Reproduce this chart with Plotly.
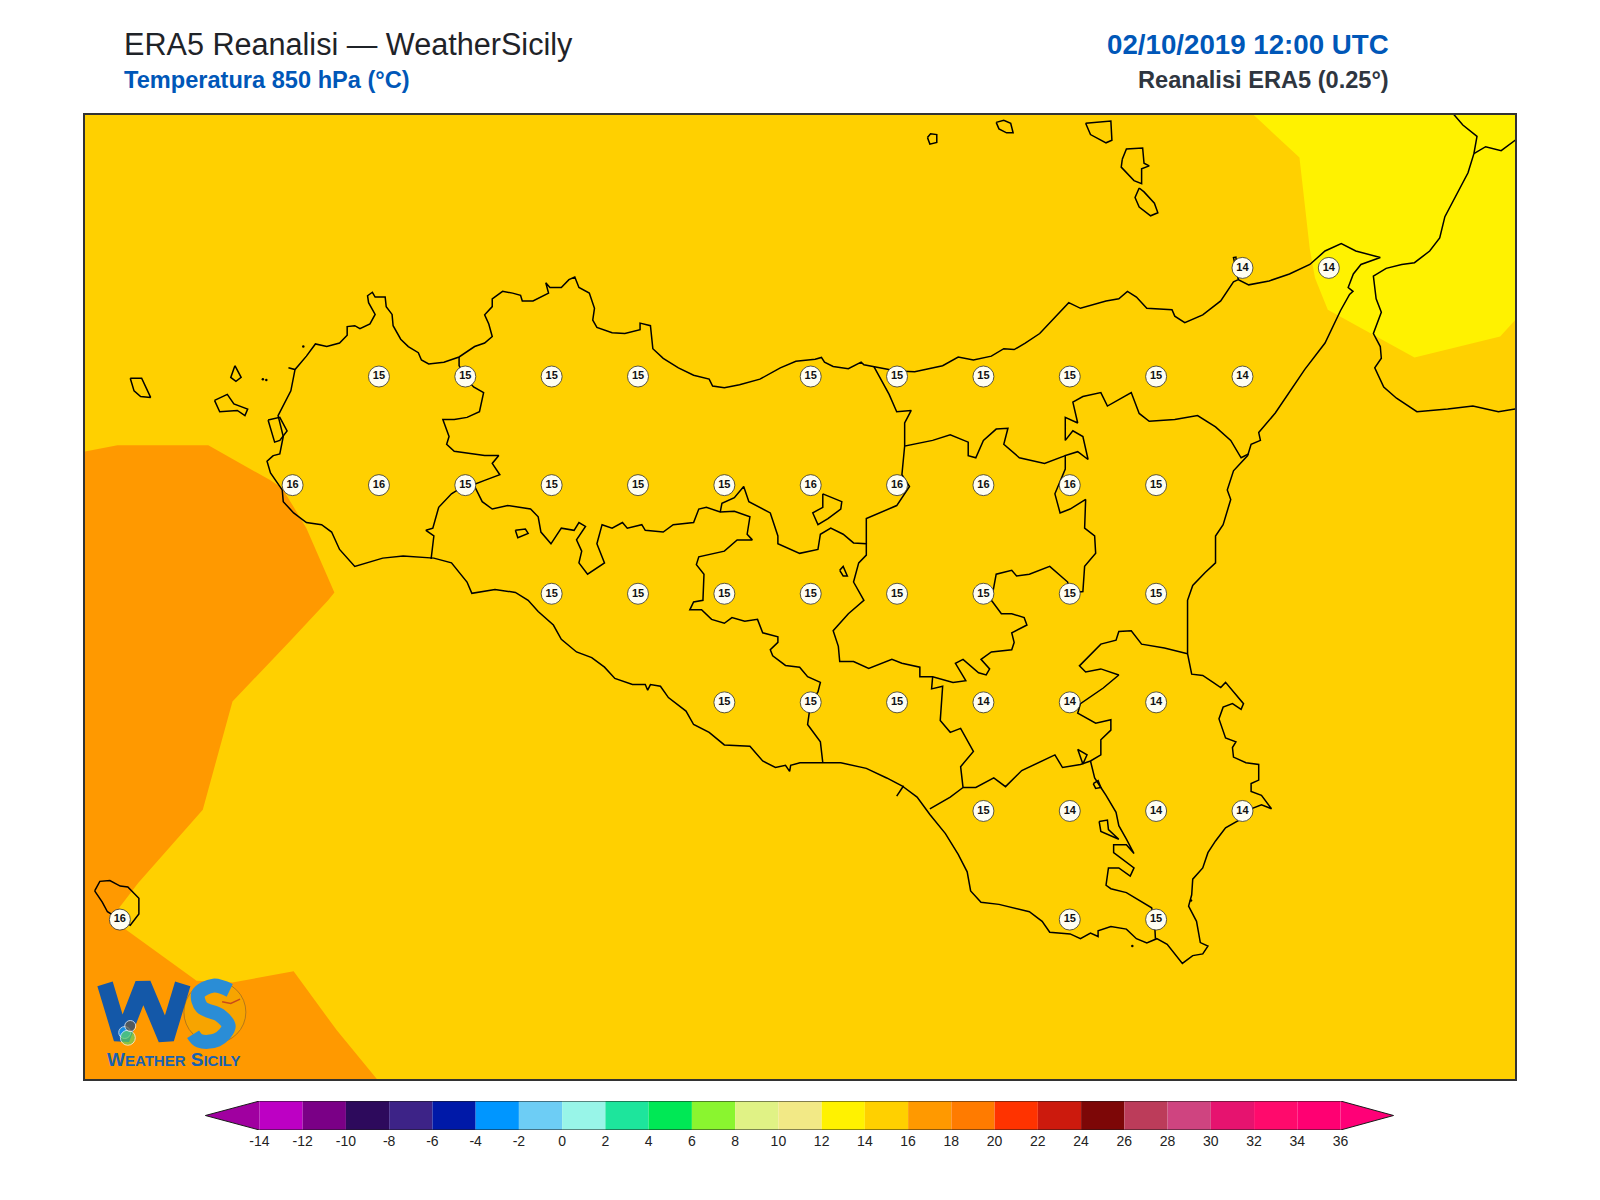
import plotly.graph_objects as go

# map window, degrees
lon_range = [11.899, 16.039]
lat_range = [36.383, 38.602]

# rounded 850 hPa temperature on the 0.25 degree grid
station_lon = [15.25, 15.5,
               12.75, 13.0, 13.25, 13.5, 14.0, 14.25, 14.5, 14.75, 15.0, 15.25,
               12.5, 12.75, 13.0, 13.25, 13.5, 13.75, 14.0, 14.25, 14.5, 14.75, 15.0,
               13.25, 13.5, 13.75, 14.0, 14.25, 14.5, 14.75, 15.0,
               13.75, 14.0, 14.25, 14.5, 14.75, 15.0,
               14.5, 14.75, 15.0, 15.25,
               12.0, 14.75, 15.0]
station_lat = [38.25, 38.25,
               38.0, 38.0, 38.0, 38.0, 38.0, 38.0, 38.0, 38.0, 38.0, 38.0,
               37.75, 37.75, 37.75, 37.75, 37.75, 37.75, 37.75, 37.75, 37.75, 37.75, 37.75,
               37.5, 37.5, 37.5, 37.5, 37.5, 37.5, 37.5, 37.5,
               37.25, 37.25, 37.25, 37.25, 37.25, 37.25,
               37.0, 37.0, 37.0, 37.0,
               36.75, 36.75, 36.75]
station_val = [14, 14,
               15, 15, 15, 15, 15, 15, 15, 15, 15, 14,
               16, 16, 15, 15, 15, 15, 16, 16, 16, 16, 15,
               15, 15, 15, 15, 15, 15, 15, 15,
               15, 15, 15, 14, 14, 14,
               15, 14, 14, 14,
               16, 15, 15]

# colour bands
band_14_16 = [(11.895, 36.381), (16.043, 36.381), (16.043, 38.604), (11.895, 38.604)]
band_16_18 = [(11.895, 37.827), (11.993, 37.842), (12.256, 37.842), (12.436, 37.761), (12.470, 37.743),
              (12.540, 37.651), (12.621, 37.503), (12.603, 37.485), (12.495, 37.393), (12.326, 37.252),
              (12.240, 37.003), (12.053, 36.834), (11.998, 36.777), (12.016, 36.728), (12.222, 36.609),
              (12.326, 36.605), (12.503, 36.631), (12.628, 36.495), (12.746, 36.381), (11.895, 36.381)]
band_12_14 = [(15.280, 38.604), (15.415, 38.504), (15.445, 38.293), (15.460, 38.227), (15.497, 38.154),
              (15.748, 38.044), (15.996, 38.092), (16.043, 38.133), (16.043, 38.604)]

sicily = [(12.444, 37.818), (12.463, 37.822), (12.473, 37.862), (12.458, 37.910), (12.495, 37.967), (12.507, 38.016),
          (12.488, 38.020), (12.507, 38.016), (12.540, 38.047), (12.566, 38.075), (12.599, 38.069), (12.636, 38.077),
          (12.658, 38.095), (12.658, 38.115), (12.680, 38.117), (12.695, 38.110), (12.724, 38.121), (12.739, 38.143),
          (12.720, 38.170), (12.717, 38.186), (12.731, 38.194), (12.739, 38.183), (12.768, 38.183), (12.771, 38.161),
          (12.788, 38.143), (12.791, 38.117), (12.813, 38.086), (12.835, 38.069), (12.864, 38.055), (12.873, 38.038),
          (12.894, 38.029), (12.938, 38.033), (12.982, 38.045), (13.027, 38.069), (13.056, 38.077), (13.078, 38.092),
          (13.068, 38.121), (13.056, 38.142), (13.078, 38.161), (13.078, 38.179), (13.108, 38.196), (13.137, 38.192),
          (13.160, 38.187), (13.165, 38.174), (13.196, 38.174), (13.241, 38.192), (13.233, 38.216), (13.245, 38.205),
          (13.278, 38.205), (13.300, 38.223), (13.317, 38.229), (13.329, 38.205), (13.359, 38.192), (13.374, 38.157),
          (13.369, 38.130), (13.381, 38.113), (13.425, 38.101), (13.462, 38.099), (13.506, 38.108), (13.506, 38.123),
          (13.536, 38.117), (13.540, 38.082), (13.543, 38.064), (13.573, 38.042), (13.617, 38.020), (13.661, 38.003),
          (13.706, 37.994), (13.716, 37.978), (13.750, 37.974), (13.794, 37.981), (13.853, 37.994), (13.912, 38.020),
          (13.957, 38.035), (14.013, 38.040), (14.031, 38.044), (14.040, 38.033), (14.065, 38.023), (14.109, 38.018),
          (14.146, 38.033), (14.154, 38.027), (14.183, 38.023), (14.249, 38.013), (14.301, 38.011), (14.353, 38.020),
          (14.382, 38.025), (14.427, 38.045), (14.471, 38.038), (14.523, 38.047), (14.559, 38.064), (14.589, 38.062),
          (14.621, 38.077), (14.663, 38.099), (14.747, 38.170), (14.781, 38.157), (14.855, 38.174), (14.892, 38.179),
          (14.917, 38.196), (14.943, 38.183), (14.973, 38.157), (15.046, 38.154), (15.054, 38.139), (15.083, 38.124),
          (15.135, 38.142), (15.187, 38.174), (15.224, 38.218), (15.238, 38.223), (15.231, 38.275), (15.224, 38.274),
          (15.238, 38.223), (15.268, 38.211), (15.327, 38.220), (15.386, 38.236), (15.445, 38.258), (15.489, 38.289),
          (15.536, 38.306), (15.578, 38.289), (15.649, 38.274), (15.593, 38.258), (15.571, 38.236), (15.556, 38.205),
          (15.570, 38.196), (15.560, 38.189), (15.534, 38.152), (15.489, 38.077), (15.430, 38.016), (15.345, 37.916),
          (15.297, 37.871), (15.302, 37.853), (15.275, 37.844), (15.265, 37.818), (15.224, 37.783), (15.206, 37.739),
          (15.216, 37.717), (15.194, 37.659), (15.172, 37.633), (15.172, 37.571), (15.142, 37.549), (15.106, 37.519),
          (15.091, 37.485), (15.091, 37.406), (15.091, 37.362), (15.103, 37.315), (15.135, 37.312), (15.165, 37.296),
          (15.187, 37.284), (15.201, 37.296), (15.224, 37.274), (15.253, 37.247), (15.246, 37.234), (15.221, 37.247),
          (15.194, 37.239), (15.182, 37.212), (15.201, 37.168), (15.231, 37.159), (15.221, 37.146), (15.224, 37.124),
          (15.260, 37.111), (15.297, 37.107), (15.297, 37.071), (15.275, 37.063), (15.275, 37.045), (15.305, 37.036),
          (15.334, 37.005), (15.305, 37.014), (15.275, 37.005), (15.249, 36.983), (15.201, 36.961), (15.172, 36.931),
          (15.150, 36.904), (15.135, 36.869), (15.106, 36.843), (15.103, 36.807), (15.094, 36.781), (15.117, 36.746),
          (15.128, 36.697), (15.150, 36.689), (15.135, 36.671), (15.106, 36.667), (15.076, 36.649), (15.054, 36.671),
          (15.032, 36.693), (15.002, 36.706), (14.973, 36.696), (14.943, 36.706), (14.914, 36.728), (14.869, 36.734),
          (14.832, 36.724), (14.832, 36.711), (14.810, 36.719), (14.781, 36.706), (14.751, 36.717), (14.692, 36.721),
          (14.670, 36.746), (14.633, 36.768), (14.589, 36.777), (14.545, 36.785), (14.493, 36.790), (14.463, 36.816),
          (14.453, 36.860), (14.427, 36.900), (14.390, 36.948), (14.345, 36.992), (14.308, 37.032), (14.264, 37.058),
          (14.220, 37.076), (14.161, 37.098), (14.087, 37.111), (14.035, 37.111), (13.969, 37.111), (13.942, 37.105),
          (13.939, 37.091), (13.927, 37.105), (13.898, 37.100), (13.861, 37.115), (13.824, 37.149), (13.750, 37.152),
          (13.706, 37.181), (13.661, 37.199), (13.639, 37.230), (13.588, 37.261), (13.565, 37.287), (13.536, 37.291),
          (13.528, 37.278), (13.521, 37.291), (13.484, 37.291), (13.433, 37.305), (13.403, 37.331), (13.366, 37.353),
          (13.322, 37.366), (13.278, 37.395), (13.255, 37.428), (13.211, 37.459), (13.182, 37.485), (13.145, 37.503),
          (13.086, 37.510), (13.019, 37.501), (13.005, 37.527), (12.960, 37.571), (12.909, 37.582), (12.820, 37.587),
          (12.761, 37.582), (12.680, 37.563), (12.636, 37.602), (12.613, 37.642), (12.584, 37.659), (12.540, 37.664),
          (12.503, 37.686), (12.473, 37.712), (12.470, 37.739), (12.436, 37.778), (12.426, 37.805), (12.444, 37.818)]

calabria = [(15.861, 38.604), (15.888, 38.579), (15.929, 38.553), (15.920, 38.513), (15.903, 38.469), (15.858, 38.399),
            (15.836, 38.368), (15.821, 38.319), (15.792, 38.289), (15.748, 38.262), (15.711, 38.258), (15.666, 38.249),
            (15.629, 38.231), (15.637, 38.179), (15.652, 38.148), (15.629, 38.099), (15.649, 38.069), (15.652, 38.042),
            (15.633, 38.020), (15.659, 37.976), (15.696, 37.950), (15.755, 37.919), (15.844, 37.925), (15.917, 37.932),
            (15.991, 37.919), (16.043, 37.926)]
calabria_branch = [(15.920, 38.513), (15.954, 38.529), (15.999, 38.520), (16.028, 38.538), (16.043, 38.546)]

# islands
pantelleria = [(11.927, 36.816), (11.942, 36.838), (11.971, 36.840), (12.001, 36.827), (12.023, 36.825), (12.055, 36.799),
               (12.055, 36.763), (12.030, 36.737), (12.001, 36.750), (11.964, 36.768), (11.949, 36.790), (11.927, 36.816)]
marettimo = [(12.030, 37.996), (12.063, 37.996), (12.089, 37.952), (12.060, 37.954), (12.041, 37.967), (12.030, 37.996)]
levanzo = [(12.333, 38.025), (12.351, 37.998), (12.336, 37.989), (12.321, 37.998), (12.333, 38.025)]
favignana = [(12.274, 37.945), (12.311, 37.959), (12.330, 37.937), (12.370, 37.925), (12.362, 37.910), (12.340, 37.922),
             (12.289, 37.919), (12.274, 37.945)]
stagnone = [(12.429, 37.900), (12.463, 37.906), (12.484, 37.875), (12.463, 37.853), (12.448, 37.849), (12.429, 37.900)]
alicudi = [(14.338, 38.550), (14.347, 38.559), (14.365, 38.557), (14.365, 38.539), (14.345, 38.535), (14.338, 38.550)]
filicudi = [(14.537, 38.585), (14.559, 38.590), (14.579, 38.583), (14.586, 38.561), (14.567, 38.561), (14.545, 38.570),
            (14.537, 38.585)]
salina = [(14.796, 38.583), (14.869, 38.588), (14.872, 38.544), (14.855, 38.538), (14.810, 38.557), (14.796, 38.583)]
lipari = [(14.902, 38.500), (14.914, 38.524), (14.961, 38.526), (14.965, 38.491), (14.980, 38.485), (14.958, 38.478),
          (14.958, 38.444), (14.936, 38.451), (14.899, 38.482), (14.902, 38.500)]
vulcano = [(14.951, 38.434), (14.965, 38.425), (14.995, 38.399), (15.005, 38.377), (14.984, 38.370), (14.951, 38.390),
           (14.939, 38.412), (14.951, 38.434)]

# province borders
border_tp_pa = [(12.982, 38.045), (12.982, 38.025), (13.000, 37.998), (13.024, 37.976), (13.053, 37.963), (13.041, 37.919),
                (13.005, 37.906), (12.968, 37.901), (12.935, 37.901), (12.953, 37.862), (12.946, 37.844), (12.968, 37.828),
                (13.056, 37.818), (13.097, 37.818), (13.078, 37.800), (13.100, 37.774), (13.056, 37.761), (13.027, 37.752),
                (13.000, 37.750), (12.960, 37.730), (12.923, 37.699), (12.906, 37.651), (12.886, 37.646), (12.909, 37.633),
                (12.901, 37.580)]
border_pa_ag = [(13.027, 37.747), (13.049, 37.712), (13.078, 37.695), (13.123, 37.703), (13.189, 37.695), (13.211, 37.677),
                (13.219, 37.642), (13.248, 37.615), (13.278, 37.651), (13.315, 37.646), (13.329, 37.664), (13.348, 37.655),
                (13.322, 37.624), (13.337, 37.598), (13.329, 37.571), (13.354, 37.545), (13.403, 37.571), (13.381, 37.615),
                (13.396, 37.659), (13.425, 37.651), (13.455, 37.664), (13.469, 37.651), (13.511, 37.659), (13.521, 37.646),
                (13.573, 37.642), (13.602, 37.659), (13.661, 37.664), (13.676, 37.695), (13.698, 37.699), (13.738, 37.688),
                (13.779, 37.690), (13.824, 37.677), (13.816, 37.637), (13.831, 37.624), (13.787, 37.624), (13.750, 37.598),
                (13.676, 37.585), (13.669, 37.567), (13.691, 37.545), (13.688, 37.485), (13.661, 37.481), (13.650, 37.463),
                (13.684, 37.463), (13.713, 37.441), (13.750, 37.432), (13.772, 37.445), (13.809, 37.437), (13.846, 37.441),
                (13.861, 37.410), (13.905, 37.401), (13.905, 37.388), (13.883, 37.371), (13.890, 37.357), (13.927, 37.335),
                (13.968, 37.331), (13.991, 37.309), (14.028, 37.296), (14.021, 37.274), (14.000, 37.250), (13.991, 37.199),
                (14.028, 37.159), (14.035, 37.111)]
border_pa_cl = [(13.738, 37.688), (13.743, 37.708), (13.779, 37.721), (13.806, 37.747), (13.821, 37.712), (13.883, 37.686),
                (13.905, 37.633), (13.905, 37.615), (13.968, 37.593), (14.021, 37.602), (14.028, 37.637), (14.058, 37.651),
                (14.094, 37.637), (14.124, 37.617), (14.161, 37.615), (14.161, 37.589), (14.139, 37.571), (14.124, 37.527),
                (14.154, 37.485), (14.109, 37.454), (14.065, 37.415), (14.080, 37.379), (14.084, 37.344), (14.124, 37.344),
                (14.168, 37.328), (14.235, 37.349), (14.264, 37.340), (14.316, 37.331), (14.316, 37.309), (14.353, 37.309),
                (14.412, 37.296), (14.449, 37.300), (14.419, 37.340), (14.441, 37.349), (14.486, 37.318), (14.508, 37.313),
                (14.518, 37.327), (14.493, 37.349), (14.523, 37.366), (14.582, 37.371), (14.589, 37.388), (14.582, 37.410),
                (14.626, 37.428), (14.618, 37.445), (14.582, 37.454), (14.552, 37.454), (14.523, 37.485), (14.537, 37.545),
                (14.582, 37.554), (14.596, 37.541), (14.633, 37.545), (14.692, 37.563), (14.744, 37.527), (14.748, 37.501),
                (14.788, 37.505), (14.793, 37.563), (14.825, 37.593), (14.822, 37.633), (14.793, 37.651), (14.796, 37.717),
                (14.751, 37.695), (14.722, 37.686), (14.707, 37.730), (14.737, 37.787), (14.737, 37.818), (14.773, 37.827),
                (14.803, 37.809), (14.788, 37.862), (14.759, 37.875), (14.737, 37.853), (14.737, 37.906), (14.773, 37.893),
                (14.759, 37.941), (14.788, 37.954), (14.840, 37.963), (14.859, 37.932), (14.928, 37.963), (14.951, 37.915),
                (14.980, 37.897), (15.054, 37.901), (15.120, 37.910), (15.172, 37.884), (15.216, 37.853), (15.246, 37.813),
                (15.268, 37.822)]
border_me_en = [(14.737, 37.818), (14.677, 37.800), (14.604, 37.813), (14.559, 37.844), (14.571, 37.881), (14.537, 37.879),
                (14.500, 37.853), (14.478, 37.813), (14.456, 37.818), (14.456, 37.849), (14.404, 37.866), (14.353, 37.853),
                (14.272, 37.840), (14.264, 37.774), (14.286, 37.747), (14.249, 37.703), (14.161, 37.673), (14.161, 37.615)]
border_pa_me = [(14.183, 38.023), (14.227, 37.959), (14.249, 37.919), (14.291, 37.922), (14.272, 37.893), (14.272, 37.840)]
border_cl_rg = [(14.353, 37.309), (14.350, 37.281), (14.382, 37.287), (14.375, 37.208), (14.404, 37.181), (14.434, 37.190),
                (14.471, 37.137), (14.434, 37.102), (14.441, 37.054), (14.404, 37.032), (14.345, 37.005)]
border_ct_rg = [(14.441, 37.054), (14.478, 37.054), (14.530, 37.076), (14.564, 37.056), (14.611, 37.093), (14.648, 37.107),
                (14.707, 37.129), (14.729, 37.100), (14.781, 37.107), (14.810, 37.115), (14.840, 37.129), (14.840, 37.164),
                (14.869, 37.186), (14.869, 37.210), (14.825, 37.202), (14.773, 37.225), (14.781, 37.247), (14.847, 37.283),
                (14.892, 37.313), (14.840, 37.327), (14.796, 37.320), (14.778, 37.334), (14.840, 37.384), (14.884, 37.393),
                (14.892, 37.413), (14.928, 37.415), (14.958, 37.384), (15.024, 37.375), (15.091, 37.362)]
border_sr = [(14.810, 37.115), (14.822, 37.076), (14.840, 37.054), (14.855, 37.036), (14.884, 36.997), (14.892, 36.966),
             (14.914, 36.935), (14.936, 36.902), (14.914, 36.922), (14.877, 36.922), (14.877, 36.904), (14.936, 36.869),
             (14.925, 36.850), (14.892, 36.869), (14.862, 36.869), (14.855, 36.829), (14.869, 36.821), (14.914, 36.812),
             (14.987, 36.777), (14.995, 36.750), (14.998, 36.706)]

# lakes and small details
lake_sr = [(14.835, 36.976), (14.859, 36.979), (14.862, 36.957), (14.892, 36.935), (14.840, 36.953), (14.835, 36.976)]
lake_ring = [(14.818, 37.063), (14.832, 37.070), (14.840, 37.054), (14.825, 37.052), (14.818, 37.063)]
lake_ct = [(14.773, 37.142), (14.800, 37.129), (14.788, 37.108), (14.773, 37.142)]
lake_en = [(14.035, 37.730), (14.065, 37.721), (14.090, 37.712), (14.087, 37.695), (14.050, 37.673), (14.021, 37.659),
           (14.006, 37.686), (14.035, 37.699), (14.035, 37.730)]
lake_small = [(14.084, 37.554), (14.094, 37.563), (14.106, 37.541), (14.094, 37.541), (14.084, 37.554)]
lake_ag = [(13.145, 37.646), (13.174, 37.649), (13.182, 37.639), (13.152, 37.629), (13.145, 37.646)]
gela_tick = [(14.269, 37.058), (14.249, 37.034)]
islets = [(14.931, 36.689), (15.101, 36.794), (12.531, 38.069), (12.414, 37.994), (12.424, 37.992)]

map_lines = [sicily, calabria, calabria_branch, pantelleria, marettimo, levanzo, favignana, stagnone,
             alicudi, filicudi, salina, lipari, vulcano,
             border_tp_pa, border_pa_ag, border_pa_cl, border_me_en, border_pa_me, border_cl_rg, border_ct_rg, border_sr,
             lake_sr, lake_ring, lake_ct, lake_en, lake_small, lake_ag, gela_tick]

# logo strokes
logo_w = [(11.957, 36.602), (12.005, 36.475), (12.067, 36.602), (12.134, 36.475), (12.182, 36.602)]
logo_s = [(12.318, 36.587), (12.271, 36.598), (12.227, 36.579), (12.237, 36.548), (12.289, 36.530), (12.315, 36.504),
          (12.281, 36.473), (12.230, 36.471), (12.212, 36.486)]
logo_bird = [(12.296, 36.561), (12.321, 36.557), (12.348, 36.567)]

# colour bar
cbar_levels = [-14, -12, -10, -8, -6, -4, -2, 0, 2, 4, 6, 8, 10, 12, 14, 16, 18, 20, 22, 24, 26, 28, 30, 32, 34, 36]
cbar_colors = ["#bd00c4", "#7a0086", "#2d0a5c", "#3d2387", "#0019a8", "#0096ff", "#6dcdf5", "#98f5e8",
               "#1de59c", "#00e855", "#8af52f", "#e0f285", "#f2e986", "#fff200", "#ffd000", "#ff9900",
               "#ff7b00", "#ff3300", "#cc1a0d", "#7d0707", "#bc3c5a", "#cf4480", "#e6136f", "#ff0a6c", "#ff0072"]
cbar_under = "#a000a0"
cbar_over = "#ff0077"
cbar_tip_low = -16.5
cbar_tip_high = 38.45

BG = "#ffd000"


def unzip(points):
    return [p[0] for p in points], [p[1] for p in points]


def band(points, color):
    x, y = unzip(points)
    return go.Scatter(x=x, y=y, mode="lines", fill="toself", fillcolor=color, line=dict(width=0), hoverinfo="skip")


fig = go.Figure()
fig.add_trace(band(band_14_16, BG))
fig.add_trace(band(band_16_18, "#ff9900"))
fig.add_trace(band(band_12_14, "#fff200"))

for seg in map_lines:
    x, y = unzip(seg)
    fig.add_trace(go.Scatter(x=x, y=y, mode="lines", line=dict(color="black", width=1.5), hoverinfo="skip"))

x, y = unzip(islets)
fig.add_trace(go.Scatter(x=x, y=y, mode="markers", marker=dict(color="black", size=2.5), hoverinfo="skip"))

fig.add_trace(go.Scatter(
    x=station_lon, y=station_lat, mode="markers+text",
    text=["<b>%d</b>" % v for v in station_val], textposition="middle center",
    textfont=dict(family="Liberation Sans", size=11, color="#111111"),
    marker=dict(size=21, color="#fffef2", line=dict(color="#333333", width=0.8)),
    hoverinfo="skip"))

# logo
fig.add_trace(go.Scatter(x=[12.275], y=[36.537], mode="markers",
                         marker=dict(size=62, color="#f7a400", line=dict(color="#b5781a", width=1)), hoverinfo="skip"))
x, y = unzip(logo_w)
fig.add_trace(go.Scatter(x=x, y=y, mode="lines", line=dict(color="#1458a8", width=16), hoverinfo="skip"))
x, y = unzip(logo_s)
fig.add_trace(go.Scatter(x=x, y=y, mode="lines", line=dict(color="#2a8dd6", width=14, shape="spline"), hoverinfo="skip"))
x, y = unzip(logo_bird)
fig.add_trace(go.Scatter(x=x, y=y, mode="lines", line=dict(color="#c84b1a", width=1.5), hoverinfo="skip"))
fig.add_trace(go.Scatter(x=[12.014, 12.023, 12.030], y=[36.490, 36.478, 36.505], mode="markers",
                         marker=dict(size=[12, 15, 11], color=["#16a3ff", "#5fd35f", "#6b5a3f"]), hoverinfo="skip"))

# colour bar on its own axes
fig.add_trace(go.Bar(x=cbar_levels[:-1], y=[1] * len(cbar_colors), width=2, offset=0,
                     marker=dict(color=cbar_colors, line=dict(width=0)),
                     xaxis="x2", yaxis="y2", hoverinfo="skip"))
fig.add_trace(go.Scatter(x=[cbar_levels[0], cbar_tip_low, cbar_levels[0]], y=[0, 0.5, 1], mode="lines",
                         fill="toself", fillcolor=cbar_under, line=dict(width=0),
                         xaxis="x2", yaxis="y2", hoverinfo="skip"))
fig.add_trace(go.Scatter(x=[cbar_levels[-1], cbar_tip_high, cbar_levels[-1]], y=[0, 0.5, 1], mode="lines",
                         fill="toself", fillcolor=cbar_over, line=dict(width=0),
                         xaxis="x2", yaxis="y2", hoverinfo="skip"))
fig.add_trace(go.Scatter(x=[cbar_levels[0], cbar_levels[-1], cbar_tip_high, cbar_levels[-1], cbar_levels[0], cbar_tip_low,
                            cbar_levels[0]],
                         y=[1, 1, 0.5, 0, 0, 0.5, 1], mode="lines", line=dict(color="#1a1a1a", width=1),
                         xaxis="x2", yaxis="y2", hoverinfo="skip"))

fig.update_layout(
    width=1600, height=1200,
    margin=dict(l=84.5, r=84.5, t=114.5, b=60),
    paper_bgcolor="white", plot_bgcolor="white",
    showlegend=False, hovermode=False,
    font=dict(family="Liberation Sans"),
    xaxis=dict(range=lon_range, domain=[0, 1], showgrid=False, zeroline=False, ticks="", showticklabels=False,
               showline=True, mirror=True, linecolor="#333333", linewidth=2),
    yaxis=dict(range=lat_range, domain=[0.0595, 1], showgrid=False, zeroline=False, ticks="", showticklabels=False,
               showline=True, mirror=True, linecolor="#333333", linewidth=2),
    xaxis2=dict(range=[-16.73, 38.73], domain=[0.0807, 0.9193], anchor="y2", showgrid=False, zeroline=False,
                tickmode="array", tickvals=cbar_levels, ticktext=[str(v) for v in cbar_levels],
                ticks="", tickfont=dict(size=14, color="#222222"), showline=False, ticklabelstandoff=1),
    yaxis2=dict(range=[0, 1], domain=[0.00975, 0.03803], anchor="x2", showgrid=False, zeroline=False,
                showticklabels=False, ticks="", showline=False),
)

fig.add_annotation(text="ERA5 Reanalisi — WeatherSicily", xref="paper", yref="paper", x=0.02586, y=1.0687,
                   xanchor="left", yanchor="middle", showarrow=False, font=dict(size=30.6, color="#1f2328"))
fig.add_annotation(text="<b>Temperatura 850 hPa (°C)</b>", xref="paper", yref="paper", x=0.02586, y=1.0341,
                   xanchor="left", yanchor="middle", showarrow=False, font=dict(size=23.6, color="#0057b8"))
fig.add_annotation(text="<b>02/10/2019 12:00 UTC</b>", xref="paper", yref="paper", x=0.9130, y=1.0687,
                   xanchor="right", yanchor="middle", showarrow=False, font=dict(size=27.7, color="#0057b8"))
fig.add_annotation(text="<b>Reanalisi ERA5 (0.25°)</b>", xref="paper", yref="paper", x=0.9130, y=1.0341,
                   xanchor="right", yanchor="middle", showarrow=False, font=dict(size=23.6, color="#2f3640"))

fig.add_annotation(text="<b>W<span style=\"font-size:15px\">EATHER</span> S<span style=\"font-size:15px\">ICILY</span></b>",
                   x=12.156, y=36.429, showarrow=False, font=dict(size=19, color="#1a62b0"))

fig.write_html("out.html", config=dict(displayModeBar=False), post_script="document.body.style.margin='0';")
